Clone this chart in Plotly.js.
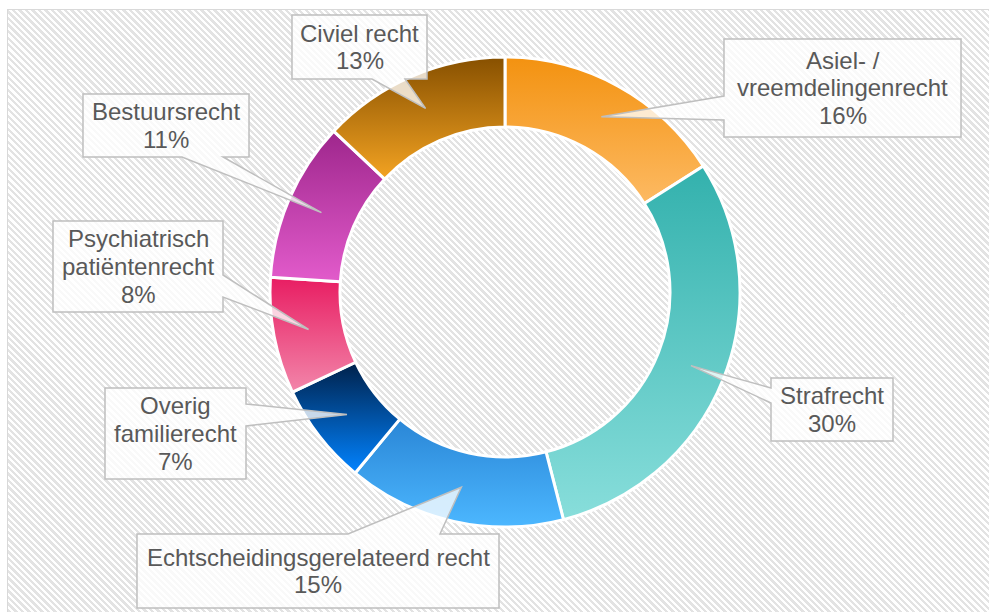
<!DOCTYPE html>
<html>
<head>
<meta charset="utf-8">
<script src="https://cdn.plot.ly/plotly-3.0.1.min.js"></script>
<style>
  html, body { margin: 0; padding: 0; background: #ffffff; }
  #wrap { position: relative; width: 989px; height: 612px; overflow: hidden; background: #ffffff; }
  #bg {
    position: absolute; left: 7px; top: 9px; width: 1000px; height: 620px;
    border: 1px solid #d9d9d9; box-sizing: border-box;
    background: repeating-linear-gradient(45deg, #ffffff 0px, #ffffff 2.3px, #e3e3e3 2.3px, #e3e3e3 4.6px);
  }
  #chart { position: absolute; left: 0; top: 0; width: 989px; height: 612px; }
</style>
</head>
<body>
<div id="wrap"><div id="bg"></div><div id="chart"></div></div>
<script>
// ---- data ----
const categories = [
  "Asiel- / vreemdelingenrecht",
  "Strafrecht",
  "Echtscheidingsgerelateerd recht",
  "Overig familierecht",
  "Psychiatrisch patiëntenrecht",
  "Bestuursrecht",
  "Civiel recht"
];
const labelLines = [
  ["Asiel- /", "vreemdelingenrecht"],
  ["Strafrecht"],
  ["Echtscheidingsgerelateerd recht"],
  ["Overig", "familierecht"],
  ["Psychiatrisch", "patiëntenrecht"],
  ["Bestuursrecht"],
  ["Civiel recht"]
];
const shares = [16, 30, 15, 7, 8, 11, 13];

// ---- styling ----
const gradTop    = ["#f39210", "#33b1ad", "#2a86d6", "#00214a", "#e81d62", "#9e268c", "#875000"];
const gradBottom = ["#fdba63", "#88dedb", "#4cb7ff", "#0283ff", "#f286aa", "#e25bcb", "#f3a322"];
const midColors  = ["#f8a63a", "#5dc8c4", "#3b9eea", "#0152a4", "#ed5186", "#c040ac", "#bd7a11"];

const W = 989, H = 612;
const CX = 505, CY = 292, R_OUT = 235, R_IN = 165;
const px = x => x / W;
const py = y => 1 - y / H;

// callout boxes (pixel layout): [left, top, right, bottom, side, base1, base2]
const boxes = [
  [724, 39, 961, 137, "left", 96, 120],
  [771, 378, 893, 441, "left", 388, 403],
  [137, 534, 499, 608, "top", 348, 440],
  [105, 388, 246, 479, "right", 404, 426],
  [53, 221, 223, 312, "right", 275, 297],
  [83, 94, 249, 157, "bottom", 182, 223],
  [292, 15, 427, 79, "bottom", 372, 405]
];

const total = shares.reduce((a, b) => a + b, 0);
const shapes = [];
const annotations = [];
let cum = 0;
const rMid = (R_OUT + R_IN) / 2;
shares.forEach((v, i) => {
  const midFrac = (cum + v / 2) / total;
  cum += v;
  const th = 2 * Math.PI * midFrac;
  const tx = CX + rMid * Math.sin(th);
  const ty = CY - rMid * Math.cos(th);
  const [L, T, Rr, B, side, b1, b2] = boxes[i];
  let pts;
  if (side === "left") {
    pts = [[L, T], [Rr, T], [Rr, B], [L, B], [L, b2], [tx, ty], [L, b1]];
  } else if (side === "right") {
    pts = [[L, T], [Rr, T], [Rr, b1], [tx, ty], [Rr, b2], [Rr, B], [L, B]];
  } else if (side === "top") {
    pts = [[L, T], [b1, T], [tx, ty], [b2, T], [Rr, T], [Rr, B], [L, B]];
  } else {
    pts = [[L, T], [Rr, T], [Rr, B], [b2, B], [tx, ty], [b1, B], [L, B]];
  }
  const path = "M" + pts.map(p => px(p[0]).toFixed(5) + "," + py(p[1]).toFixed(5)).join(" L") + " Z";
  shapes.push({
    type: "path", xref: "paper", yref: "paper", path: path,
    fillcolor: "rgba(255,255,255,0.78)",
    line: { color: "#bfbfbf", width: 1.5 },
    layer: "above"
  });
  const lines = labelLines[i].concat([Math.round(v / total * 100) + "%"]);
  const lh = 27.7;
  const cyBox = (T + B) / 2;
  const cxBox = (L + Rr) / 2;
  lines.forEach((t, k) => {
    const yy = cyBox + (k - (lines.length - 1) / 2) * lh;
    annotations.push({
      xref: "paper", yref: "paper", x: px(cxBox), y: py(yy),
      xanchor: "center", yanchor: "middle", showarrow: false,
      text: t,
      font: { family: "Liberation Sans, Arial, sans-serif", size: 24, color: "#595959" }
    });
  });
});

const trace = {
  type: "pie",
  labels: categories,
  values: shares,
  sort: false,
  direction: "clockwise",
  rotation: 0,
  hole: R_IN / R_OUT,
  textinfo: "none",
  hoverinfo: "label+percent",
  marker: { colors: midColors, line: { color: "#ffffff", width: 3 } },
  domain: { x: [px(CX - R_OUT), px(CX + R_OUT)], y: [py(CY + R_OUT), py(CY - R_OUT)] },
  showlegend: false
};

const layout = {
  width: W, height: H,
  margin: { l: 0, r: 0, t: 0, b: 0 },
  paper_bgcolor: "rgba(0,0,0,0)",
  plot_bgcolor: "rgba(0,0,0,0)",
  showlegend: false,
  shapes: shapes,
  annotations: annotations
};

Plotly.newPlot("chart", [trace], layout, { displayModeBar: false, staticPlot: true }).then(gd => {
  const svg = gd.querySelector("svg.main-svg");
  const ns = "http://www.w3.org/2000/svg";
  let defs = svg.querySelector("defs");
  if (!defs) { defs = document.createElementNS(ns, "defs"); svg.insertBefore(defs, svg.firstChild); }
  gradTop.forEach((c, i) => {
    const g = document.createElementNS(ns, "linearGradient");
    g.setAttribute("id", "sliceGrad" + i);
    g.setAttribute("x1", "0"); g.setAttribute("y1", "0");
    g.setAttribute("x2", "0"); g.setAttribute("y2", "1");
    const s1 = document.createElementNS(ns, "stop");
    s1.setAttribute("offset", "0"); s1.setAttribute("stop-color", c);
    const s2 = document.createElementNS(ns, "stop");
    s2.setAttribute("offset", "1"); s2.setAttribute("stop-color", gradBottom[i]);
    g.appendChild(s1); g.appendChild(s2);
    defs.appendChild(g);
  });
  const slices = gd.querySelectorAll("g.slice");
  slices.forEach(sl => {
    const d = sl.__data__;
    const idx = d && d.i !== undefined ? d.i : null;
    const surf = sl.querySelector("path.surface");
    if (surf && idx !== null) surf.style.fill = "url(#sliceGrad" + idx + ")";
  });
});
</script>
</body>
</html>
